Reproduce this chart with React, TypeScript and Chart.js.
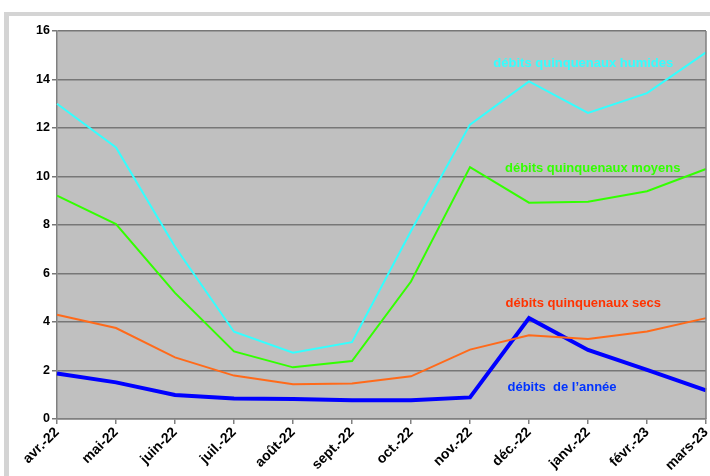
import React, { useEffect, useRef } from 'react';
import { Chart, registerables } from 'chart.js';

Chart.register(...registerables);

const months = ['avr.-22', 'mai-22', 'juin-22', 'juil.-22', 'août-22', 'sept.-22', 'oct.-22', 'nov.-22', 'déc.-22', 'janv.-22', 'févr.-23', 'mars-23'];

const humides = [13.0, 11.2, 7.1, 3.6, 2.73, 3.17, 7.75, 12.14, 13.92, 12.62, 13.44, 15.12];
const moyens = [9.21, 8.04, 5.2, 2.79, 2.13, 2.39, 5.67, 10.39, 8.92, 8.96, 9.39, 10.31];
const secs = [4.3, 3.75, 2.54, 1.79, 1.43, 1.46, 1.76, 2.86, 3.45, 3.3, 3.61, 4.16];
const annee = [1.88, 1.51, 0.99, 0.85, 0.82, 0.77, 0.77, 0.89, 4.16, 2.85, 2.03, 1.18];

const labelTexts = ['débits quinquenaux humides', 'débits quinquenaux moyens', 'débits quinquenaux secs', 'débits  de l\u2019année'];
const labelX = [8.92, 9.08, 8.92, 8.56];
const labelY = [14.65, 10.32, 4.75, 1.29];
const labelColors = ['#33ffff', '#33ff00', '#ff3300', '#0033ff'];

const FONT = '"Liberation Sans", Arial, sans-serif';

const bgPlugin = {
  id: 'plotBg',
  beforeDraw(chart: any) {
    const { ctx, chartArea: a } = chart;
    ctx.save();
    ctx.fillStyle = '#c0c0c0';
    ctx.fillRect(a.left, a.top, a.right - a.left, a.bottom - a.top);
    ctx.restore();
  },
  afterDatasetsDraw(chart: any) {
    const { ctx, chartArea: a, scales } = chart;
    ctx.save();
    ctx.strokeStyle = '#808080';
    ctx.lineWidth = 1.5;
    ctx.beginPath();
    ctx.moveTo(a.right, a.top);
    ctx.lineTo(a.right, a.bottom);
    ctx.stroke();
    ctx.font = `bold 13px ${FONT}`;
    ctx.textAlign = 'center';
    ctx.textBaseline = 'middle';
    for (let i = 0; i < labelTexts.length; i++) {
      ctx.fillStyle = labelColors[i];
      ctx.fillText(labelTexts[i], scales.x.getPixelForValue(labelX[i]), scales.y.getPixelForValue(labelY[i]));
    }
    ctx.restore();
  },
};

export default function App() {
  const ref = useRef<HTMLCanvasElement>(null);
  useEffect(() => {
    if (!ref.current) return;
    const chart = new Chart(ref.current, {
      type: 'line',
      data: {
        labels: months,
        datasets: [
          { data: humides, borderColor: '#33ffff', borderWidth: 2 },
          { data: moyens, borderColor: '#33ff00', borderWidth: 2 },
          { data: secs, borderColor: '#ff6a1a', borderWidth: 2 },
          { data: annee, borderColor: '#0000ff', borderWidth: 4 },
        ].map((d) => ({ ...d, pointRadius: 0, tension: 0, fill: false })),
      },
      options: {
        animation: false,
        responsive: false,
        devicePixelRatio: 1,
        layout: { padding: { left: 0, right: 4, top: 31, bottom: 0 } },
        plugins: { legend: { display: false }, tooltip: { enabled: false } },
        scales: {
          x: {
            offset: false,
            grid: { drawOnChartArea: false, drawTicks: true, tickLength: 5, color: '#808080', lineWidth: 1.5 },
            border: { color: '#808080', width: 1.5 },
            ticks: {
              autoSkip: false,
              minRotation: 45,
              maxRotation: 45,
              padding: 0,
              color: '#000',
              font: { family: FONT, size: 14, weight: 'bold' },
            },
            afterFit(scale: any) {
              scale.height = 57;
              scale.paddingRight = 0;
              scale.paddingLeft = 0;
            },
          },
          y: {
            min: 0,
            max: 16,
            grid: { color: '#777777', lineWidth: 1.5, tickLength: 5, drawTicks: true },
            border: { color: '#808080', width: 1.5 },
            ticks: {
              stepSize: 2,
              padding: 2,
              color: '#000',
              font: { family: FONT, size: 12.5, weight: 'bold' },
            },
            afterFit(scale: any) {
              scale.width = 57;
            },
          },
        },
      },
      plugins: [bgPlugin],
    } as any);
    return () => chart.destroy();
  }, []);
  return (
    <div style={{ position: 'absolute', left: 0, top: 0, width: 710, height: 476, background: '#fff', overflow: 'hidden' }}>
      <div style={{ position: 'absolute', left: 4, top: 12, width: 720, height: 480, borderLeft: '5px solid #d4d4d4', borderTop: '4px solid #d4d4d4' }} />
      <canvas ref={ref} width={710} height={476} style={{ position: 'absolute', left: 0, top: 0 }} />
    </div>
  );
}
